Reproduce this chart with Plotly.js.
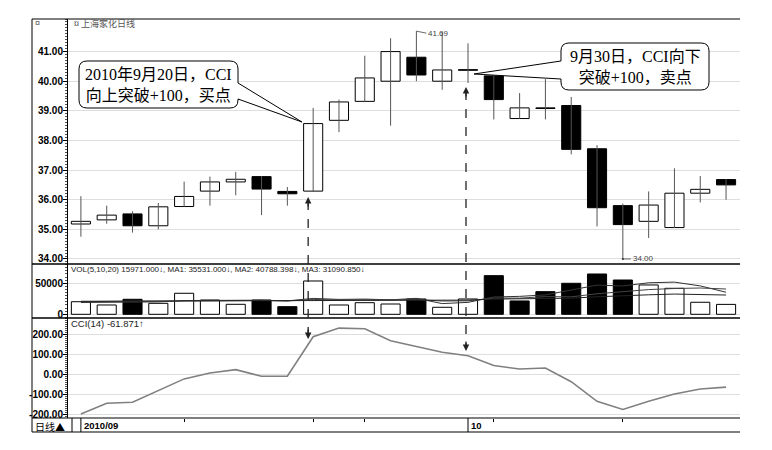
<!DOCTYPE html>
<html><head><meta charset="utf-8">
<script src="https://cdn.plot.ly/plotly-3.0.1.min.js"></script>
<style>html,body{margin:0;padding:0;background:#fff}#chart{width:772px;height:450px}</style>
</head><body><div id="chart"></div>
<script>
// ---- data ----
const dayIndex = [1,2,3,4,5,6,7,8,9,10,11,12,13,14,15,16,17,18,19,20,21,22,23,24,25,26];
const openPrice  = [35.18,35.32,35.52,35.12,35.77,36.29,36.60,36.78,36.28,36.29,38.68,39.32,40.00,40.81,40.00,40.38,40.18,38.74,39.09,39.18,37.72,35.80,35.27,35.06,36.22,36.68];
const highPrice  = [36.12,35.80,35.61,35.89,36.61,36.78,36.94,36.80,36.43,39.10,39.38,40.86,41.45,41.69,41.67,41.28,40.20,39.60,40.07,39.47,37.84,35.87,36.28,37.06,36.80,36.70];
const lowPrice   = [34.75,35.19,34.89,35.00,35.76,35.80,36.15,35.48,35.80,36.28,38.28,39.30,38.50,40.00,39.71,39.94,38.71,38.73,38.71,37.53,35.10,34.00,34.71,35.05,35.91,36.00];
const closePrice = [35.27,35.48,35.12,35.76,36.11,36.60,36.69,36.36,36.20,38.57,39.30,40.11,41.00,40.21,40.38,40.37,39.38,39.10,39.08,37.70,35.73,35.16,35.82,36.22,36.35,36.50];
const volume = [20300,15000,24200,17700,33900,23000,16100,23000,12300,53700,15000,18700,16600,24700,11300,24700,62300,21500,36500,50000,65000,55300,47300,41900,19400,15971];
const volumeDirection = ['up','up','down','up','up','up','up','down','down','up','up','up','up','down','up','up','down','down','down','down','down','down','up','up','up','up'];
const volMA5  = [19000,19500,20500,20000,22200,22760,22980,22740,21660,25620,24020,24540,23260,25740,17260,19200,27920,28900,31260,39000,47060,45660,50820,51900,45780,35531];
const volMA10 = [20500,20800,21200,21000,21500,22000,22000,22300,21500,23920,23390,23760,23000,23700,21440,21610,26230,26080,28500,28130,33130,36790,39860,41580,42390,40788];
const volMA20 = [21000,21200,21500,21600,21900,22100,22000,22200,22000,22800,22700,23000,22900,23300,22800,22900,24500,24700,25800,26025,28260,30275,31430,32640,31915,31091];
const cci14 = [-195,-142,-137,-80,-21,8,25,-8,-8,188,231,228,168,140,111,94,45,28,33,-35,-132,-173,-132,-96,-71,-62];
const priceTicks = [34,35,36,37,38,39,40,41];
const priceTickText = ['34.00','35.00','36.00','37.00','38.00','39.00','40.00','41.00'];
const volTicks = [0,50000];
const volTickText = ['0','50000'];
const cciTicks = [-200,-100,0,100,200];
const cciTickText = ['-200.00','-100.00','0.00','100.00','200.00'];
const minorDayTicks = [5,10,12,17,22];
const monthStartDays = [1,16];
const monthLabels = ['2010/09','10'];
const buyDay = 10, sellDay = 16;

// ---- geometry helpers (pixel -> paper) ----
const L=68,R=740,T=19,B=418,W=R-L,H=B-T;
const px = x => (x-L)/W;
const py = y => (B-y)/H;

// wicks
const wx=[], wy=[];
dayIndex.forEach((d,i)=>{wx.push(d,d,null); wy.push(lowPrice[i],highPrice[i],null);});
const bodyBase = dayIndex.map((d,i)=>Math.min(openPrice[i],closePrice[i]));
const bodyLen = dayIndex.map((d,i)=>Math.max(Math.abs(closePrice[i]-openPrice[i]),0.02));
const bodyColor = dayIndex.map((d,i)=>closePrice[i]>=openPrice[i]?'#ffffff':'#000000');
const volColor = volumeDirection.map(v=>v==='up'?'#ffffff':'#000000');

const traces = [
 {type:'scatter',mode:'lines',x:wx,y:wy,line:{color:'#555',width:1},xaxis:'x',yaxis:'y',hoverinfo:'skip'},
 {type:'bar',x:dayIndex,y:bodyLen,base:bodyBase,width:0.74,marker:{color:bodyColor,line:{color:'#000',width:1}},xaxis:'x',yaxis:'y',hoverinfo:'skip'},
 {type:'bar',x:dayIndex,y:volume,width:0.74,marker:{color:volColor,line:{color:'#000',width:1}},xaxis:'x',yaxis:'y2',hoverinfo:'skip'},
 {type:'scatter',mode:'lines',x:dayIndex,y:volMA5,line:{color:'#333',width:1},xaxis:'x',yaxis:'y2'},
 {type:'scatter',mode:'lines',x:dayIndex,y:volMA10,line:{color:'#444',width:1},xaxis:'x',yaxis:'y2'},
 {type:'scatter',mode:'lines',x:dayIndex,y:volMA20,line:{color:'#222',width:1},xaxis:'x',yaxis:'y2'},
 {type:'scatter',mode:'lines',x:dayIndex,y:cci14,line:{color:'#808080',width:1.6},xaxis:'x',yaxis:'y3'}
];

const tickFont = {family:'Liberation Sans, Arial, sans-serif',size:10,color:'#000',weight:'bold'};
const yCommon = {anchor:'x',side:'left',showline:true,linecolor:'#000',linewidth:1,ticks:'outside',ticklen:4,tickcolor:'#000',
  gridcolor:'#dedede',gridwidth:1,zeroline:false,tickfont:tickFont,tickmode:'array',fixedrange:true,ticklabelstandoff:-2};

function line(x0,y0,x1,y1,w,c,dash){return {type:'line',xref:'paper',yref:'paper',x0:px(x0),y0:py(y0),x1:px(x1),y1:py(y1),line:{color:c||'#000',width:w||1,dash:dash||'solid'}};}
function calloutPath(pts){
  return pts.map(p=>{const c=p[0];const nums=p.slice(1);let s=c;for(let k=0;k<nums.length;k+=2){s+=' '+px(nums[k]).toFixed(5)+','+py(nums[k+1]).toFixed(5);}return s;}).join(' ')+' Z';
}
const call1 = calloutPath([['M',87,61],['L',230,61],['Q',238,61,238,69],['L',238,83],['L',302,122],['L',238,99],['L',238,100],['Q',238,108,230,108],['L',87,108],['Q',79,108,79,100],['L',79,69],['Q',79,61,87,61]]);
const call2 = calloutPath([['M',569,43],['L',701,43],['Q',709,43,709,51],['L',709,82],['Q',709,90,701,90],['L',569,90],['Q',561,90,561,82],['L',561,79],['L',474,74],['L',561,61],['L',561,51],['Q',561,43,569,43]]);

const shapes = [
 line(32,19,740,19,1),
 line(32,19,32,432,1),
 line(32,264,740,264,1.6),
 line(32,318,740,318,1.6),
 line(32,418,740,418,1.2),
 line(32,432,740,432,1.2),
 line(72,418,72,432,1),
 ...monthStartDays.map(d=>({type:'line',xref:'x',yref:'paper',x0:d,x1:d,y0:py(418),y1:py(432),line:{color:'#000',width:1}})),
 {type:'line',xref:'x',xsizemode:'pixel',xanchor:buyDay,x0:-5,x1:-5,yref:'paper',y0:py(201),y1:py(336),line:{color:'#222',width:1.3,dash:'dash'}},
 {type:'line',xref:'x',xsizemode:'pixel',xanchor:sellDay,x0:-2,x1:-2,yref:'paper',y0:py(91),y1:py(348),line:{color:'#222',width:1.3,dash:'dash'}},
 {type:'path',xref:'paper',yref:'paper',path:call1,fillcolor:'#fff',line:{color:'#000',width:1}},
 {type:'path',xref:'paper',yref:'paper',path:call2,fillcolor:'#fff',line:{color:'#000',width:1}}
];

const smallFont = {family:'Liberation Sans, Arial, sans-serif',size:8,color:'#222'};
const arrowAnn = (day,shift,yPix,ay)=>({x:day,xref:'x',xshift:shift,y:py(yPix),yref:'paper',text:'',showarrow:true,ax:0,ay:ay,arrowhead:2,arrowsize:1,arrowwidth:1.3,arrowcolor:'#222'});
const calloutFont = {family:'Liberation Serif, "Noto Sans CJK SC", serif',size:16,color:'#000'};
const annotations = [
 {x:px(158.5),y:py(84.5),xref:'paper',yref:'paper',xanchor:'center',yanchor:'middle',text:'2010年9月20日，CCI<br>向上突破+100，买点',showarrow:false,font:calloutFont,align:'center'},
 {x:px(635),y:py(66.5),xref:'paper',yref:'paper',xanchor:'center',yanchor:'middle',text:'9月30日，CCI向下<br>突破+100，卖点',showarrow:false,font:calloutFont,align:'center'},
 arrowAnn(buyDay,-5,197,11),
 arrowAnn(buyDay,-5,339,-11),
 arrowAnn(sellDay,-2,87,11),
 arrowAnn(sellDay,-2,351,-11),
 {x:px(72),y:py(23),xref:'paper',yref:'paper',text:'¤ 上海家化日线',xanchor:'left',yanchor:'middle',showarrow:false,font:{family:'"Noto Sans CJK SC", sans-serif',size:9,color:'#555'}},
 {x:px(33),y:py(23),xref:'paper',yref:'paper',text:'¤',xanchor:'left',yanchor:'middle',showarrow:false,font:{family:'Liberation Sans',size:9,color:'#555'}},
 {x:px(69),y:py(269),xref:'paper',yref:'paper',text:'VOL(5,10,20) 15971.000↓, MA1: 35531.000↓, MA2: 40788.398↓, MA3: 31090.850↓',xanchor:'left',yanchor:'middle',showarrow:false,font:smallFont},
 {x:px(69),y:py(323),xref:'paper',yref:'paper',text:'CCI(14) -61.871↑',xanchor:'left',yanchor:'middle',showarrow:false,font:{family:'Liberation Sans, Arial, sans-serif',size:9.5,color:'#222'}},
 {x:14,y:highPrice[13],xref:'x',yref:'y',text:'41.69',showarrow:true,arrowhead:0,arrowwidth:0.8,arrowcolor:'#444',ax:10,ay:2,xanchor:'left',yanchor:'middle',font:{family:'Liberation Sans',size:8,color:'#444'}},
 {x:22,y:lowPrice[21],xref:'x',yref:'y',text:'34.00',showarrow:true,arrowhead:7,arrowsize:0.6,arrowwidth:0.8,arrowcolor:'#444',ax:8,ay:0,xanchor:'left',yanchor:'middle',font:{family:'Liberation Sans',size:8,color:'#444'}},
 {x:px(33),y:py(426),xref:'paper',yref:'paper',text:'日线▲',xanchor:'left',yanchor:'middle',showarrow:false,font:{family:'"Noto Sans CJK SC", sans-serif',size:10,color:'#000'}},
 ...monthStartDays.map((d,i)=>({x:d,xref:'x',xshift:1,y:py(425.5),yref:'paper',text:monthLabels[i],xanchor:'left',yanchor:'middle',showarrow:false,font:{family:'Liberation Sans',size:9.5,color:'#000',weight:'bold'}}))
];

const layout = {
 width:772,height:450,margin:{l:L,r:772-R,t:T,b:450-B},showlegend:false,
 paper_bgcolor:'#fff',plot_bgcolor:'#fff',barmode:'overlay',
 xaxis:{domain:[0,1],range:[0.5,26.54],anchor:'y3',showgrid:false,zeroline:false,showline:false,tickmode:'array',tickvals:minorDayTicks,ticktext:minorDayTicks.map(()=>''),ticks:'outside',ticklen:3,tickcolor:'#000',showticklabels:false,fixedrange:true},
 yaxis:Object.assign({},yCommon,{domain:[py(264),1],range:[33.83,42.10],tickvals:priceTicks,ticktext:priceTickText,minor:{ticks:'outside',ticklen:2,dtick:0.1,tickcolor:'#555',showgrid:false}}),
 yaxis2:Object.assign({},yCommon,{domain:[py(318),py(264)],range:[-5970,81100],tickvals:volTicks,ticktext:volTickText,minor:{ticks:'outside',ticklen:2,dtick:5000,tickcolor:'#555',showgrid:false}}),
 yaxis3:Object.assign({},yCommon,{domain:[0,py(318)],range:[-215,281],tickvals:cciTicks,ticktext:cciTickText,minor:{ticks:'outside',ticklen:2,dtick:10,tickcolor:'#555',showgrid:false}}),
 shapes:shapes,annotations:annotations
};
Plotly.newPlot('chart',traces,layout,{displayModeBar:false,staticPlot:true});
</script></body></html>
